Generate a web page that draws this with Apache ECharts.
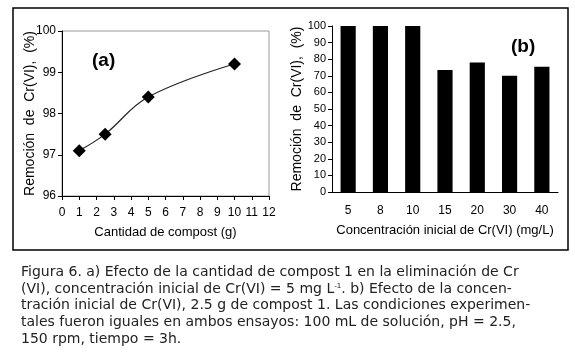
<!DOCTYPE html>
<html>
<head>
<meta charset="utf-8">
<script src="https://cdn.jsdelivr.net/npm/echarts@6/dist/echarts.min.js"></script>
<style>
  html, body { margin: 0; padding: 0; background: #fff; }
  #chart { width: 575px; height: 361px; }
</style>
</head>
<body>
<div id="chart"></div>
<script>
// (a) compost amount vs removal
var compostX = [1, 2.5, 5, 10];
var removalA = [97.1, 97.5, 98.4, 99.2];
// (b) initial concentration vs removal
var concCategories = ["5", "8", "10", "15", "20", "30", "40"];
var removalB = [100, 100, 100, 73.5, 78, 70, 75.5];

var captionLines = [
  "Figura 6. a) Efecto de la cantidad de compost 1 en la eliminación de Cr",
  "(VI), concentración inicial de Cr(VI) = 5 mg L{sup|-1}. b) Efecto de la concen-",
  "tración inicial de Cr(VI), 2.5 g de compost 1. Las condiciones experimen-",
  "tales fueron iguales en ambos ensayos: 100 mL de solución, pH = 2.5,",
  "150 rpm, tiempo = 3h."
];

var axisFont = "Liberation Sans";
var chart = echarts.init(document.getElementById("chart"));

var graphics = [
  {
    type: "rect",
    shape: { x: 13, y: 8, width: 555, height: 242 },
    style: { fill: "none", stroke: "#000", lineWidth: 1.5 }
  },
  {
    type: "text", left: 92, top: 51,
    style: { text: "(a)", font: "bold 19px Liberation Sans Narrow, Liberation Sans", fill: "#000" }
  },
  {
    type: "text", left: 511, top: 37,
    style: { text: "(b)", font: "bold 19px Liberation Sans Narrow, Liberation Sans", fill: "#000" }
  }
];
captionLines.forEach(function (line, i) {
  graphics.push({
    type: "text", left: 21, top: 265 + i * 16.8,
    style: {
      text: line,
      font: "14px DejaVu Sans",
      fill: "#222",
      rich: { sup: { fontSize: 8, verticalAlign: "top", fill: "#222", padding: [0, 0, 8, 0] } }
    }
  });
});

chart.setOption({
  animation: false,
  textStyle: { fontFamily: axisFont },
  grid: [
    { left: 62, top: 31, width: 207, height: 165, show: true, borderColor: "#999", borderWidth: 1 },
    { left: 332, top: 26, width: 226, height: 166 }
  ],
  xAxis: [
    {
      gridIndex: 0, type: "value", min: 0, max: 12, interval: 1,
      axisLine: { lineStyle: { color: "#000" } },
      axisTick: { lineStyle: { color: "#000" }, length: 4 },
      splitLine: { show: false },
      axisLabel: { color: "#000", fontSize: 12, margin: 11 },
      name: "Cantidad de compost (g)", nameLocation: "middle", nameGap: 30,
      nameTextStyle: { color: "#000", fontSize: 13 }
    },
    {
      gridIndex: 1, type: "category", data: concCategories,
      axisLine: { lineStyle: { color: "#000" } },
      axisTick: { lineStyle: { color: "#000" }, length: 4 },
      axisLabel: { color: "#000", fontSize: 12, margin: 13 },
      name: "Concentración inicial de Cr(VI) (mg/L)", nameLocation: "middle", nameGap: 32,
      nameTextStyle: { color: "#000", fontSize: 13 }
    }
  ],
  yAxis: [
    {
      gridIndex: 0, type: "value", min: 96, max: 100, interval: 1,
      axisLine: { show: true, lineStyle: { color: "#000" } },
      axisTick: { show: true, lineStyle: { color: "#000" }, length: 4 },
      splitLine: { show: false },
      axisLabel: { color: "#000", fontSize: 12, margin: 6 },
      name: "Remoción  de  Cr(VI),  (%)", nameLocation: "middle", nameGap: 25,
      nameMoveOverlap: false,
      nameTextStyle: { color: "#000", fontSize: 14 }
    },
    {
      gridIndex: 1, type: "value", min: 0, max: 100, interval: 10,
      axisLine: { show: true, lineStyle: { color: "#000" } },
      axisTick: { show: true, lineStyle: { color: "#000" }, length: 4 },
      splitLine: { show: false },
      axisLabel: { color: "#000", fontSize: 11, margin: 6 },
      name: "Remoción  de  Cr(VI),  (%)", nameLocation: "middle", nameGap: 27,
      nameTextStyle: { color: "#000", fontSize: 14 }
    }
  ],
  series: [
    {
      type: "line", xAxisIndex: 0, yAxisIndex: 0,
      data: compostX.map(function (x, i) { return [x, removalA[i]]; }),
      smooth: 0.4,
      symbol: "diamond", symbolSize: 13,
      itemStyle: { color: "#000" },
      lineStyle: { color: "#222", width: 1.2 }
    },
    {
      type: "bar", xAxisIndex: 1, yAxisIndex: 1,
      data: removalB,
      barWidth: "47%",
      itemStyle: { color: "#000" }
    }
  ],
  graphic: graphics
});
</script>
</body>
</html>
